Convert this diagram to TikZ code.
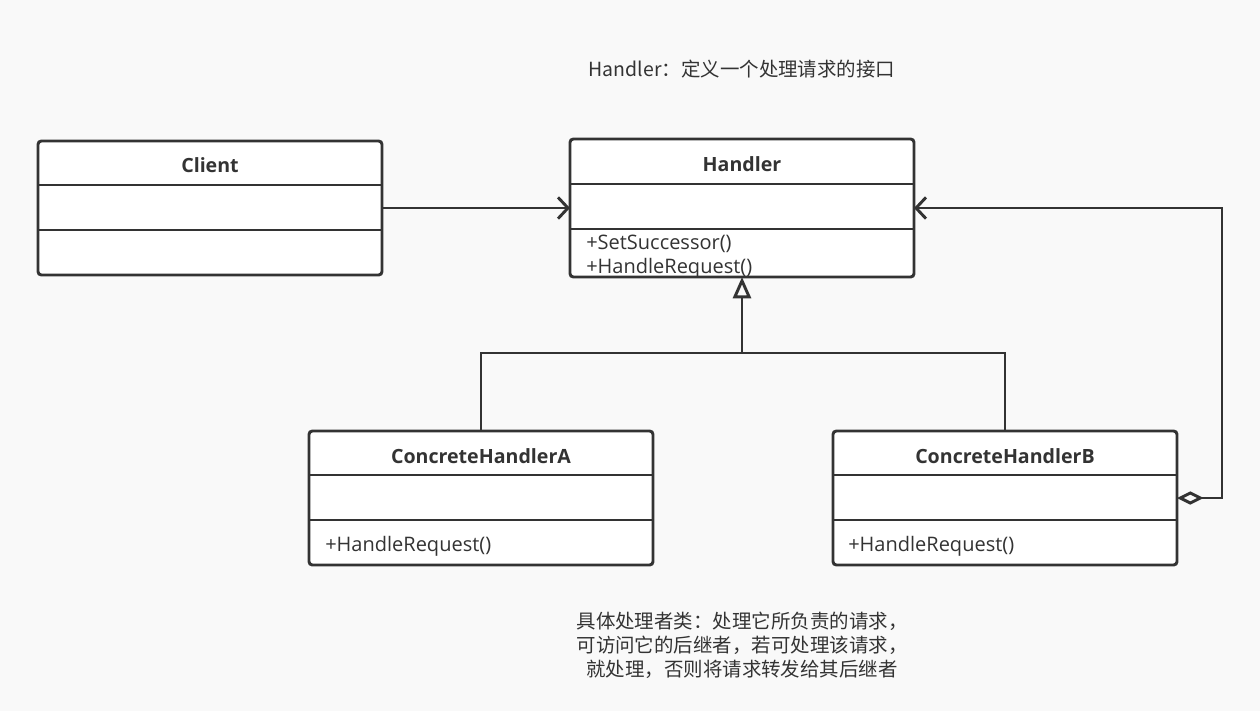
\documentclass[tikz,border=0pt]{standalone}
\usepackage{fontspec}
\setmainfont{Open Sans}
\newfontfamily\cjk{Noto Sans CJK SC}
\usetikzlibrary{arrows.meta}
\definecolor{bg}{HTML}{F9F9F9}
\definecolor{ln}{HTML}{333333}
\begin{document}
\begin{tikzpicture}[x=0.75pt,y=-0.75pt,
  cls/.style={draw=ln, fill=white, line width=2.2pt, rounded corners=2.5pt, minimum width=258pt, inner sep=0pt, outer sep=0pt},
  divl/.style={draw=ln, line width=2.2pt},
  ttl/.style={text=ln, font=\fontsize{14.7pt}{16pt}\selectfont\bfseries, inner sep=0pt},
  mth/.style={text=ln, font=\fontsize{15pt}{17pt}\selectfont, inner sep=0pt, anchor=west},
  note/.style={text=ln, font=\cjk\fontsize{14.6pt}{18pt}\selectfont, inner sep=0pt, align=center},
  conn/.style={draw=ln, line width=2.2pt},
]
\fill[bg] (0,0) rectangle (1260,711);
\useasboundingbox (0,0) rectangle (1260,711);

% classes
\node[cls, minimum height=100.5pt, anchor=north west] (client) at (38,141) {};
\node[cls, minimum height=103.5pt, anchor=north west] (handler) at (570,139) {};
\node[cls, minimum height=100.5pt, anchor=north west] (cha) at (309,431) {};
\node[cls, minimum height=100.5pt, anchor=north west] (chb) at (833,431) {};

% dividers
\foreach \n in {client,cha,chb}{
  \draw[divl] ([yshift=-33pt]\n.north west) -- ([yshift=-33pt]\n.north east);
  \draw[divl] ([yshift=-66.75pt]\n.north west) -- ([yshift=-66.75pt]\n.north east);
}
\draw[divl] ([yshift=-33.75pt]handler.north west) -- ([yshift=-33.75pt]handler.north east);
\draw[divl] ([yshift=-67.5pt]handler.north west) -- ([yshift=-67.5pt]handler.north east);

% titles
\node[ttl] (clientT) at (210,165) {Client};
\node[ttl] (handlerT) at (742,164) {Handler};
\node[ttl] (chaT) at (481,456) {ConcreteHandlerA};
\node[ttl] (chbT) at (1005,456) {ConcreteHandlerB};

% methods
\node[mth] (m1) at (586,244) {+SetSuccessor()};
\node[mth] (m2) at (586,268) {+HandleRequest()};
\node[mth] (m3) at (325,546) {+HandleRequest()};
\node[mth] (m4) at (848,546) {+HandleRequest()};

% notes
\node[note] (title) at (742,69) {Handler：定义一个处理请求的接口};
\node[note] (desc) at (742,645) {具体处理者类：处理它所负责的请求，\\可访问它的后继者，若可处理该请求，\\就处理，否则将请求转发给其后继者};

% connectors
\draw[conn, -{Straight Barb[length=7.5pt,width=16pt,line width=2.2pt]}] (client.east) -- (handler.west);
\coordinate (j) at (742,353);
\draw[conn] (cha.north) |- (j) -| (chb.north);
\draw[conn, -{Triangle[open, length=16pt, width=13.5pt, line width=2.2pt]}] (j) -- (handler.south);
\coordinate (agg) at (1222,498);
\draw[conn, {Diamond[open, length=20pt, width=10pt, line width=2.2pt]}-{Straight Barb[length=7.5pt,width=16pt,line width=2.2pt]}] (chb.east) -- (agg) |- (handler.east);
\end{tikzpicture}
\end{document}
